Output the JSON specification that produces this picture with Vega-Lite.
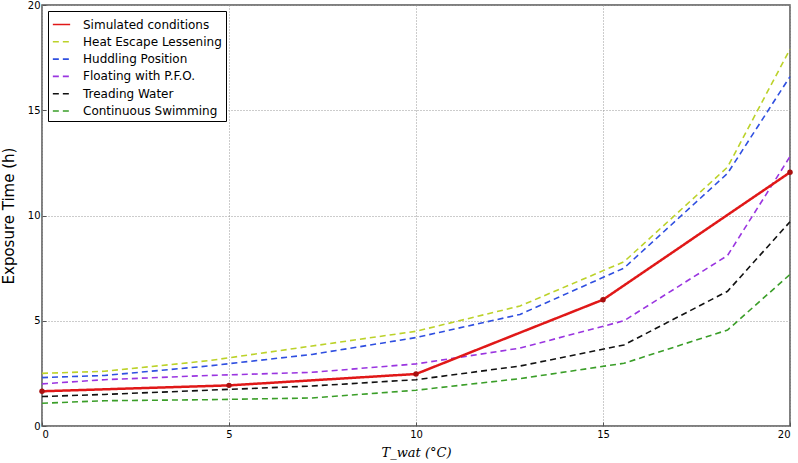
{
  "$schema": "https://vega.github.io/schema/vega-lite/v6.json",
  "autosize": "none",
  "width": 748,
  "height": 421,
  "padding": {"left": 42, "top": 5, "right": 8, "bottom": 37},
  "background": "white",
  "config": {
    "font": "DejaVu Sans",
    "view": {"stroke": "#555", "strokeWidth": 1.5},
    "axis": {
      "domain": false,
      "grid": true,
      "gridColor": "#999",
      "gridDash": [1, 2],
      "gridWidth": 1,
      "tickColor": "#555",
      "tickSize": -4,
      "labelFont": "DejaVu Sans",
      "labelFontSize": 10,
      "labelColor": "#000",
      "titleFontWeight": "normal",
      "titleColor": "#000"
    },
    "legend": {
      "orient": "top-left",
      "offset": 6,
      "padding": 4,
      "strokeColor": "#000",
      "fillColor": "white",
      "labelFont": "DejaVu Sans",
      "labelFontSize": 12,
      "labelColor": "#000",
      "symbolType": "stroke",
      "symbolSize": 300,
      "symbolStrokeWidth": 1.6,
      "rowPadding": 1.3,
      "labelOffset": 12,
      "cornerRadius": 0
    }
  },
  "datasets": {
    "curves": [
      {"x": 0, "y": 2.5, "series": "Heat Escape Lessening"},
      {"x": 1.67, "y": 2.6, "series": "Heat Escape Lessening"},
      {"x": 4.44, "y": 3.1, "series": "Heat Escape Lessening"},
      {"x": 7.22, "y": 3.8, "series": "Heat Escape Lessening"},
      {"x": 10, "y": 4.5, "series": "Heat Escape Lessening"},
      {"x": 12.78, "y": 5.7, "series": "Heat Escape Lessening"},
      {"x": 15.56, "y": 7.8, "series": "Heat Escape Lessening"},
      {"x": 18.33, "y": 12.3, "series": "Heat Escape Lessening"},
      {"x": 20, "y": 17.9, "series": "Heat Escape Lessening"},
      {"x": 0, "y": 2.3, "series": "Huddling Position"},
      {"x": 1.67, "y": 2.4, "series": "Huddling Position"},
      {"x": 4.44, "y": 2.85, "series": "Huddling Position"},
      {"x": 7.22, "y": 3.4, "series": "Huddling Position"},
      {"x": 10, "y": 4.2, "series": "Huddling Position"},
      {"x": 12.78, "y": 5.3, "series": "Huddling Position"},
      {"x": 15.56, "y": 7.5, "series": "Huddling Position"},
      {"x": 18.33, "y": 12.0, "series": "Huddling Position"},
      {"x": 20, "y": 16.6, "series": "Huddling Position"},
      {"x": 0, "y": 2.0, "series": "Floating with P.F.O."},
      {"x": 1.67, "y": 2.2, "series": "Floating with P.F.O."},
      {"x": 4.44, "y": 2.4, "series": "Floating with P.F.O."},
      {"x": 7.22, "y": 2.55, "series": "Floating with P.F.O."},
      {"x": 10, "y": 2.95, "series": "Floating with P.F.O."},
      {"x": 12.78, "y": 3.7, "series": "Floating with P.F.O."},
      {"x": 15.56, "y": 5.0, "series": "Floating with P.F.O."},
      {"x": 18.33, "y": 8.1, "series": "Floating with P.F.O."},
      {"x": 20, "y": 12.8, "series": "Floating with P.F.O."},
      {"x": 0, "y": 1.4, "series": "Treading Water"},
      {"x": 1.67, "y": 1.5, "series": "Treading Water"},
      {"x": 4.44, "y": 1.7, "series": "Treading Water"},
      {"x": 7.22, "y": 1.9, "series": "Treading Water"},
      {"x": 10, "y": 2.2, "series": "Treading Water"},
      {"x": 12.78, "y": 2.85, "series": "Treading Water"},
      {"x": 15.56, "y": 3.85, "series": "Treading Water"},
      {"x": 18.33, "y": 6.4, "series": "Treading Water"},
      {"x": 20, "y": 9.7, "series": "Treading Water"},
      {"x": 0, "y": 1.08, "series": "Continuous Swimming"},
      {"x": 1.67, "y": 1.2, "series": "Continuous Swimming"},
      {"x": 4.44, "y": 1.25, "series": "Continuous Swimming"},
      {"x": 7.22, "y": 1.33, "series": "Continuous Swimming"},
      {"x": 10, "y": 1.7, "series": "Continuous Swimming"},
      {"x": 12.78, "y": 2.25, "series": "Continuous Swimming"},
      {"x": 15.56, "y": 2.98, "series": "Continuous Swimming"},
      {"x": 18.33, "y": 4.56, "series": "Continuous Swimming"},
      {"x": 20, "y": 7.2, "series": "Continuous Swimming"}
    ],
    "sim": [
      {"x": 0, "y": 1.65, "series": "Simulated conditions"},
      {"x": 5, "y": 1.93, "series": "Simulated conditions"},
      {"x": 10, "y": 2.47, "series": "Simulated conditions"},
      {"x": 15, "y": 6.0, "series": "Simulated conditions"},
      {"x": 20, "y": 12.05, "series": "Simulated conditions"}
    ]
  },
  "encoding": {
    "x": {
      "field": "x", "type": "quantitative",
      "scale": {"domain": [0, 20], "nice": false, "zero": false},
      "axis": {"values": [0, 5, 10, 15, 20], "title": "T_wat (°C)", "titleFont": "DejaVu Serif", "titleFontStyle": "italic", "titleFontSize": 13, "titlePadding": 7, "labelPadding": 7}
    },
    "y": {
      "field": "y", "type": "quantitative",
      "scale": {"domain": [0, 20], "nice": false},
      "axis": {"values": [0, 5, 10, 15, 20], "title": "Exposure Time (h)", "titleFontSize": 15, "titlePadding": 11, "labelPadding": 6}
    }
  },
  "layer": [
    {
      "data": {"name": "curves"},
      "mark": {"type": "line", "strokeWidth": 1.6},
      "encoding": {
        "color": {
          "field": "series", "type": "nominal",
          "scale": {
            "domain": ["Simulated conditions", "Heat Escape Lessening", "Huddling Position", "Floating with P.F.O.", "Treading Water", "Continuous Swimming"],
            "range": ["#e01818", "#bcd22a", "#2f4fe0", "#9a35e0", "#111111", "#3a9e28"]
          },
          "legend": {"title": null}
        },
        "strokeDash": {
          "field": "series", "type": "nominal",
          "scale": {
            "domain": ["Simulated conditions", "Heat Escape Lessening", "Huddling Position", "Floating with P.F.O.", "Treading Water", "Continuous Swimming"],
            "range": [[1, 0], [6, 4], [6, 4], [6, 4], [6, 4], [6, 4]]
          },
          "legend": {"title": null}
        }
      }
    },
    {
      "data": {"name": "sim"},
      "mark": {"type": "line", "strokeWidth": 2.5},
      "encoding": {
        "color": {"field": "series", "type": "nominal"},
        "strokeDash": {"field": "series", "type": "nominal"}
      }
    },
    {
      "data": {"name": "sim"},
      "mark": {"type": "point", "filled": true, "color": "#a81010", "size": 30, "opacity": 1},
      "encoding": {}
    }
  ]
}
